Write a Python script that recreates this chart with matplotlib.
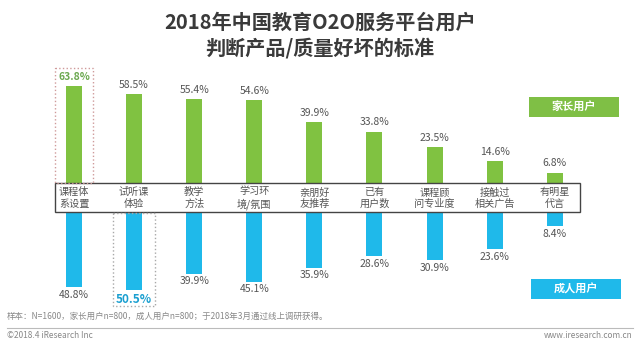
import matplotlib
matplotlib.use("Agg")
import matplotlib.pyplot as plt
from matplotlib.patches import Rectangle

plt.rcParams['font.family'] = ['Noto Sans CJK SC', 'DejaVu Sans']

categories = ["课程体\n系设置", "试听课\n体验", "教学\n方法", "学习环\n境/氛围", "亲朋好\n友推荐",
              "已有\n用户数", "课程顾\n问专业度", "接触过\n相关广告", "有明星\n代言"]
parents = [63.8, 58.5, 55.4, 54.6, 39.9, 33.8, 23.5, 14.6, 6.8]
adults = [48.8, 50.5, 39.9, 45.1, 35.9, 28.6, 30.9, 23.6, 8.4]
title = "2018年中国教育O2O服务平台用户\n判断产品/质量好坏的标准"
legend_parent = "家长用户"
legend_adult = "成人用户"
note = "样本：N=1600，家长用户n=800，成人用户n=800；于2018年3月通过线上调研获得。"
copyright_txt = "©2018.4 iResearch Inc"
site = "www.iresearch.com.cn"

GREEN = "#80c241"
BLUE = "#1fb9ea"
GRAY = "#555555"

W, H = 640, 345
fig = plt.figure(figsize=(6.4, 3.45), dpi=100)
fig.patch.set_facecolor("white")

# x mapping in pixels
x0, dx = 74.0, 60.1
xlim = ((0 - x0) / dx, (W - x0) / dx)
xs = list(range(len(categories)))
scale = 1.52  # px per percent

# top axes (parents)
top_px, bot_px = 60, 183
ax1 = fig.add_axes([0, (H - bot_px) / H, 1, (bot_px - top_px) / H])
ax1.set_xlim(*xlim)
ax1.set_ylim(0, (bot_px - top_px) / scale)
ax1.axis("off")
bw = 16 / dx
ax1.bar(xs, parents, width=bw, color=GREEN)
for i, v in enumerate(parents):
    hl = i == 0
    ax1.annotate(f"{v}%", (i, v), xytext=(0, 3), textcoords="offset points",
                 ha="center", va="bottom", fontsize=7.5,
                 color="#6aa84f" if hl else GRAY, fontweight="bold" if hl else "normal")

# bottom axes (adults)
top2, bot2 = 213, 320
ax2 = fig.add_axes([0, (H - bot2) / H, 1, (bot2 - top2) / H])
ax2.set_xlim(*xlim)
ax2.set_ylim((bot2 - top2) / scale, 0)
ax2.axis("off")
ax2.bar(xs, adults, width=bw, color=BLUE)
for i, v in enumerate(adults):
    hl = i == 1
    ax2.annotate(f"{v}%", (i, v), xytext=(0, -2), textcoords="offset points",
                 ha="center", va="top", fontsize=8.5 if hl else 7.5,
                 color="#1a9fd0" if hl else GRAY, fontweight="bold" if hl else "normal")

# overlay axes in pixel coords
ov = fig.add_axes([0, 0, 1, 1], zorder=5)
ov.set_xlim(0, W)
ov.set_ylim(H, 0)
ov.axis("off")

ov.text(320, 35, title, ha="center", va="center", fontsize=14.5, fontweight="bold",
        color="#3a3a3a", linespacing=1.25)

# category box
ov.add_patch(Rectangle((55, 183), 525, 29, fill=False, edgecolor="#444444", lw=1.0))
for i, c in enumerate(categories):
    xp = x0 + dx * i
    ov.text(xp, 198, c, ha="center", va="center", fontsize=7.3, color=GRAY, linespacing=1.15)

# dotted highlight boxes, centred on the highlighted bars
hw = 19
b1 = x0 + dx * 0
b2 = x0 + dx * 1
ov.add_patch(Rectangle((b1 - hw, 68), 2 * hw, 115, fill=False, edgecolor="#cf9a9a", lw=1.0, linestyle=":"))
ov.add_patch(Rectangle((b2 - hw - 2, 213), 2 * hw + 4, 93, fill=False, edgecolor="#a8a8a8", lw=1.0, linestyle=":"))

# legend boxes
ov.add_patch(Rectangle((529, 97), 90, 20, facecolor="#7fbf45", edgecolor="none"))
ov.text(574, 107, legend_parent, ha="center", va="center", fontsize=8, color="white", fontweight="bold")
ov.add_patch(Rectangle((531, 279), 90, 20, facecolor=BLUE, edgecolor="none"))
ov.text(576, 289, legend_adult, ha="center", va="center", fontsize=8, color="white", fontweight="bold")

# footer
ov.text(7, 316, note, ha="left", va="center", fontsize=6.1, color="#888888")
ov.plot([7, 633], [328, 328], color="#bbbbbb", lw=0.8)
ov.text(7, 336, copyright_txt, ha="left", va="center", fontsize=6, color="#888888")
ov.text(633, 336, site, ha="right", va="center", fontsize=6, color="#888888")

fig.savefig("out.png", dpi=100, facecolor="white")
